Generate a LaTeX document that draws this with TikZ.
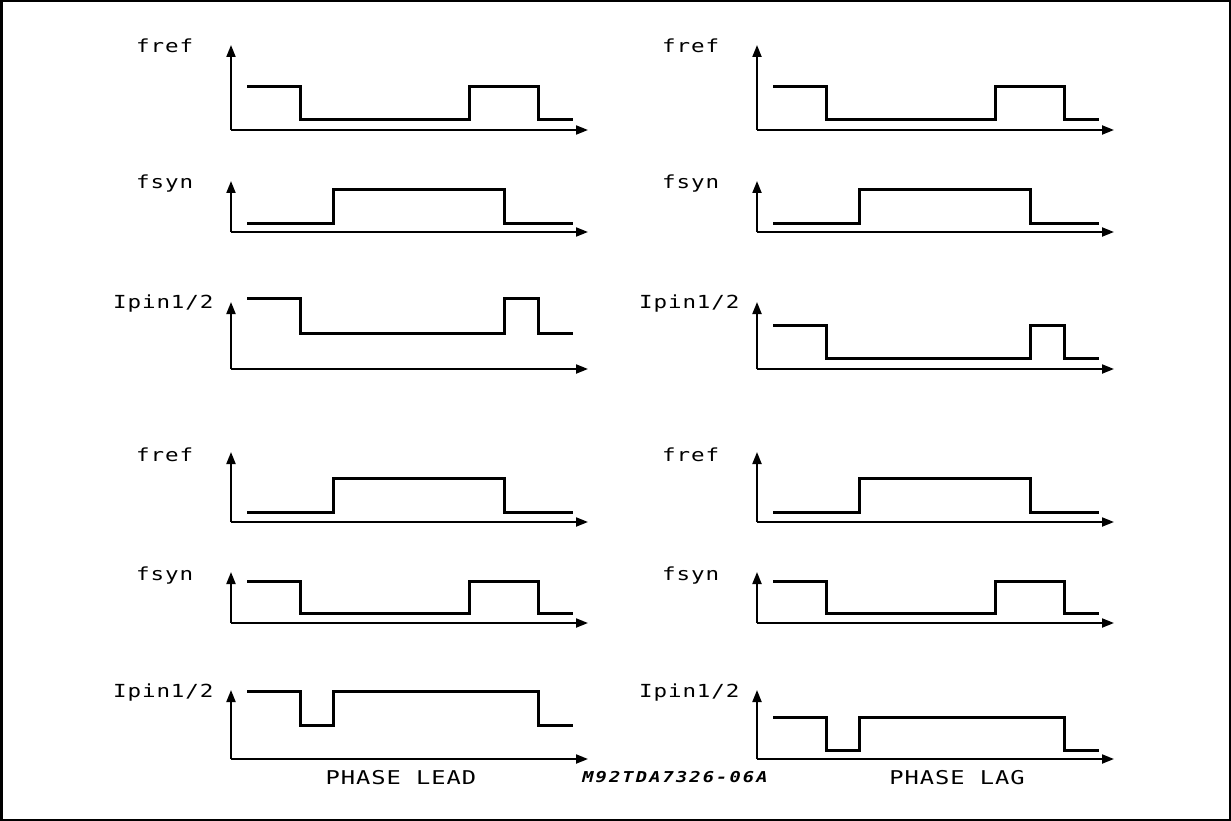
\documentclass[tikz,border=0pt]{standalone}
\usepackage{fontspec}
\usepackage{tikz}
\usetikzlibrary{calc, arrows.meta}

\newfontfamily\plotfont[FakeStretch=1.25, LetterSpace=5]{DejaVu Sans Mono}
\newfontfamily\codefont[FakeStretch=1.25, LetterSpace=14]{DejaVu Sans Mono Bold Oblique}

\tikzset{
    frame/.style = {black, line width = 2.5pt},
    axis/.style = {black, line width = 2pt, -{Triangle[length = 12pt, width = 9pt]}},
    wave/.style = {black, line width = 3pt, line cap = rect},
    siglabel/.style = {inner sep = 0pt, anchor = base west, font = \plotfont\fontsize{18}{18}\selectfont},
    caption/.style = {inner sep = 0pt, anchor = base, font = \plotfont\fontsize{19}{19}\selectfont},
}

\begin{document}
\begin{tikzpicture}[x = 1pt, y = -1pt]
            \useasboundingbox (0, 0) rectangle (1231, 821);
            \draw[frame] (1.25, 1.25) rectangle (1229.75, 819.75);
            
            \foreach \dx/\ihi/\ilo/\jhi/\jlo/\nm in {0/298/333/691/725/lead, 526/325/358/717/750/lag} {
                \begin{scope}[xshift = \dx pt]
                    % axes
                    \foreach \top/\base [count = \r] in {45/130, 181/232, 302/369, 452/522, 572/623, 690/759} {
                        \coordinate (\nm-o\r) at (231, \base);
                        \coordinate (\nm-y\r) at (231, \top);
                        \coordinate (\nm-x\r) at (588, \base);
                        \draw[axis] (\nm-o\r) -- (\nm-y\r);
                        \draw[axis] (\nm-o\r) -- (\nm-x\r);
                    }
                    
                    % signal names
                    \node[siglabel] (\nm-fref1) at (136, 53) {fref};
                    \node[siglabel] (\nm-fsyn1) at (136, 189) {fsyn};
                    \node[siglabel] (\nm-ipin1) at (113, 308) {Ipin1/2};
                    \node[siglabel] (\nm-fref2) at (136, 461) {fref};
                    \node[siglabel] (\nm-fsyn2) at (136, 580) {fsyn};
                    \node[siglabel] (\nm-ipin2) at (113, 697) {Ipin1/2};
                    
                    % waveforms
                    \draw[wave] (248, 87) -- (300, 87) -- (300, 120) -- (469, 120) -- (469, 87) -- (538, 87) -- (538, 120) -- (571, 120);
                    \draw[wave] (248, 223) -- (333, 223) -- (333, 190) -- (504, 190) -- (504, 223) -- (571, 223);
                    \draw[wave] (248, \ihi) -- (300, \ihi) -- (300, \ilo) -- (504, \ilo) -- (504, \ihi) -- (538, \ihi) -- (538, \ilo) -- (571, \ilo);
                    \draw[wave] (248, 512) -- (333, 512) -- (333, 478) -- (504, 478) -- (504, 512) -- (571, 512);
                    \draw[wave] (248, 581) -- (300, 581) -- (300, 613) -- (469, 613) -- (469, 581) -- (538, 581) -- (538, 613) -- (571, 613);
                    \draw[wave] (248, \jhi) -- (300, \jhi) -- (300, \jlo) -- (333, \jlo) -- (333, \jhi) -- (538, \jhi) -- (538, \jlo) -- (571, \jlo);
                \end{scope}
            }
            
            \node[caption] (lead) at (401, 784) {PHASE LEAD};
            \node[caption] (lag) at (957, 784) {PHASE LAG};
            \node[inner sep = 0pt, anchor = base, font = \codefont\fontsize{15}{15}\selectfont] (code) at (675, 782) {M92TDA7326-06A};
            
        \end{tikzpicture}
\end{document}
